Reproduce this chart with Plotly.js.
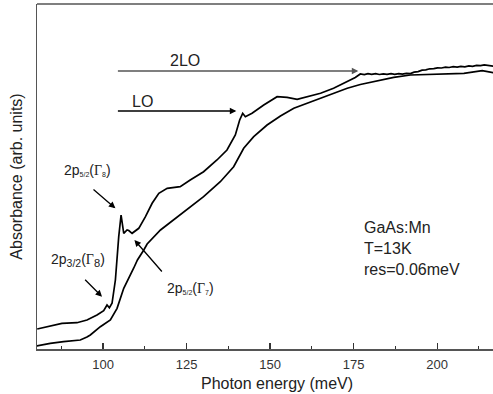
<!DOCTYPE html>
<html>
<head>
<meta charset="utf-8">
<script src="https://cdn.plot.ly/plotly-3.0.1.min.js"></script>
<style>
html,body{margin:0;padding:0;overflow:hidden;background:#fff;}
#chart{width:517px;height:394px;}
</style>
</head>
<body>
<div id="chart"></div>
<script>
// Photon energy (meV) and absorbance (arb. units)
const upperE = [80.3,84.2,87.7,92.2,95.2,98.2,100.2,101.2,101.9,102.7,103.7,104.7,105.2,105.4,106.2,107.2,107.7,108.7,110.7,112.7,114.7,116.7,119.2,123.1,126.1,130.1,134.1,137.1,139.6,140.9,141.8,142.6,144.6,148.1,152.1,155.1,158.1,161.1,165.1,169.0,173.1,175.5,177.0,178.2,179.3,180.4,181.6,182.7,183.9,185.0,186.2,187.3,188.5,189.6,190.8,192.0,193.1,194.3,195.5,196.6,197.8,199.0,200.1,201.3,202.5,203.6,204.8,206.0,207.1,208.3,209.5,210.6,211.8,213.0,214.1,215.3,216.9,219.0];
const upperA = [20,23.3,25.7,26.3,29,34,38.3,44,41.3,45.7,69,112.3,132.3,134,115.7,119,118.5,115.7,120.7,132.3,145.7,155.7,160.7,162.3,169,177.3,189,199,214,229,235.7,232.3,235.7,244,252.3,251.7,249.7,252.3,255.7,260.7,267.3,271.5,275,274.4,275.3,274.6,275.4,274.5,275.2,274.6,275.3,274.7,275.4,274.8,275.6,275.4,276.8,277.4,278.8,279.1,280.2,280.3,281.2,281,281.9,281.5,282.3,281.9,282.6,282.2,283.1,282.7,283.6,283.4,284.2,283.6,282.7,282.5];
const lowerE = [80.2,84.2,88.2,93.2,95.2,96.2,99.2,102.2,104.2,106.2,109.2,110.3,112.2,113.2,117.2,121.1,125.2,130.1,135.1,139.1,142.1,145.1,149.1,153.1,157.1,161.1,165.1,169.0,173.1,177.0,181.0,187.0,192.0,198.9,208.0,213.5,216.9,219.0];
const lowerA = [3,5.7,7.3,9,12,14,22.3,29,40.7,60.7,81,89,99,105,119,129,139,152.3,167.3,182.3,200.7,212.3,224,233,240.7,245.7,250.7,255.7,260.7,264.5,267.3,271.7,274,275,275.7,278.3,276.3,275];
const xTicks = [100,125,150,175,200];

const fontFam = '"Liberation Sans", Arial, sans-serif';
const traces = [
  {x: upperE, y: upperA, mode:'lines', line:{color:'#000', width:1.7}, hoverinfo:'skip'},
  {x: lowerE, y: lowerA, mode:'lines', line:{color:'#000', width:1.7}, hoverinfo:'skip'}
];

function arrow(x0,y0,x1,y1,color){
  return {x:x1,y:y1,ax:x0,ay:y0,xref:'x',yref:'y',axref:'x',ayref:'y',text:'',
    showarrow:true,arrowhead:2,arrowsize:1,arrowwidth:1.3,arrowcolor:color||'#000',standoff:0,startstandoff:0};
}
function label(x,y,text,size,opts){
  return Object.assign({x:x,y:y,xref:'x',yref:'y',text:text,showarrow:false,
    font:{family:fontFam,size:size,color:'#222'}}, opts||{});
}
const sb = (t,s) => '<span style="font-size:'+s+'px"><sub>'+t+'</sub></span>';
const G = '<span style="font-family:Liberation Serif">Γ</span>';

const layout = {
  width:517, height:394,
  margin:{l:37,r:0,t:4,b:45},
  paper_bgcolor:'#fff', plot_bgcolor:'#fff',
  showlegend:false,
  font:{family:fontFam, color:'#222'},
  xaxis:{
    range:[80.24,223.9], showgrid:false, zeroline:false,
    showline:true, linecolor:'#555', linewidth:1.5,
    ticks:'inside', ticklen:6, tickwidth:1.2, tickcolor:'#333',
    tickmode:'array', tickvals:xTicks, ticktext:xTicks.map(String),
    ticklabelstandoff:3,
    minor:{ticks:'inside', ticklen:3, tickwidth:1, tickcolor:'#333', dtick:12.5, tick0:87.5},
    tickfont:{size:13, family:fontFam, color:'#333'},
    title:{text:'Photon energy (meV)', font:{size:16, family:fontFam, color:'#222'}, standoff:6}
  },
  yaxis:{
    range:[0,345], showgrid:false, zeroline:false,
    showline:true, linecolor:'#555', linewidth:1.5,
    ticks:'', showticklabels:false,
    title:{text:'Absorbance (arb. units)', font:{size:16, family:fontFam, color:'#222'}, standoff:9}
  },
  shapes:[
    {type:'line', xref:'paper', yref:'paper', x0:0, x1:1, y0:1, y1:1, line:{color:'#555', width:1.5}}
  ],
  annotations:[
    arrow(104.0,278,176.4,278,'#555'),
    arrow(104.0,238,139.9,238,'#000'),
    label(124.4,289,'2LO',16),
    label(111.8,248,'LO',16),
    arrow(96.7,160.7,103.7,140.7),
    arrow(94.2,70.7,99.7,52.3),
    arrow(118.0,76,109.4,109),
    label(95.3,179,'2p'+sb('5/2',10)+'('+G+sb('8',10)+')',14),
    label(92.6,89,'2p'+sb('3/2',15)+'('+G+sb('8',16)+')',14),
    label(126.2,61,'2p'+sb('5/2',10)+'('+G+sb('7',10)+')',14),
    label(177.6,100.7,'GaAs:Mn<br>T=13K<br>res=0.06meV',16,{xanchor:'left',align:'left'})
  ]
};
Plotly.newPlot('chart', traces, layout, {staticPlot:true, displayModeBar:false});
</script>
</body>
</html>
